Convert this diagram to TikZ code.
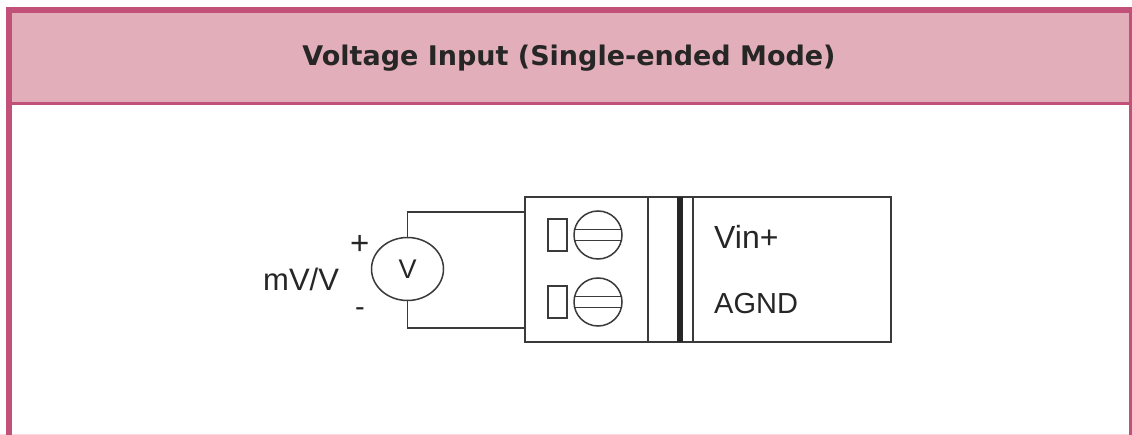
\documentclass[tikz,border=0pt]{standalone}
\usepackage{fontspec}
\setmainfont{Liberation Sans}
\newfontfamily\titlefont{DejaVu Sans}
\usepackage{xcolor}
\usepackage{tikz}
\usetikzlibrary{shapes.geometric}
\definecolor{framepink}{HTML}{C2517A}
\definecolor{headerpink}{HTML}{E2AEB9}
\definecolor{wiregray}{HTML}{3A3A3A}
\tikzset{
	wire/.style={draw=wiregray, line width=1.3pt},
	part/.style={wire, fill=white, inner sep=0pt, outer sep=0pt},
	screwhead/.style={part, circle, line width=1.5pt, minimum size=48pt},
	slot/.style={part, rectangle, line width=1.1pt, minimum width=19pt, minimum height=32pt},
	lbl/.style={text=black!85, inner sep=0pt, anchor=base west, font=\fontsize{29}{29}\selectfont}
}
\begin{document}
\begin{tikzpicture}[x=1pt, y=-1pt]
				\useasboundingbox (0, 0) rectangle (1132, 435);
				
				%Frame
				\fill[white] (0, 0) rectangle (1132, 435);
				\fill[pink!60] (0, 434) rectangle (1132, 435);
				\fill[framepink] (6, 7) rectangle (12, 435);
				\fill[framepink] (1129, 7) rectangle (1132, 435);
				\fill[framepink] (6, 7) rectangle (1132, 13);
				\fill[framepink] (6, 102) rectangle (1132, 105);
				\node[fill=headerpink, minimum width=1117pt, minimum height=89pt, inner sep=0pt] (header) at (570.5, 57.5) {};
				\node[inner sep=0pt, font=\titlefont\fontsize{27}{27}\selectfont\bfseries, text=black!85] (title) at (569, 58.5) {Voltage Input (Single-ended Mode)};
				
				%Terminal block
				\node[part, rectangle, line width=1.1pt, minimum width=366pt, minimum height=145pt] (block) at (708, 269.5) {};
				\coordinate (divider top) at (648, 197);
				\coordinate (divider bottom) at (648, 342);
				\coordinate (bar top) at (680, 197);
				\coordinate (bar bottom) at (680, 342);
				\coordinate (edge top) at (693, 197);
				\coordinate (edge bottom) at (693, 342);
				\draw[wire] (divider top) -- (divider bottom);
				\draw[wire] (edge top) -- (edge bottom);
				\draw[draw=black!85, line width=6pt] (bar top) -- (bar bottom);
				
				%Screws
				\node[slot] (slot a) at (557.5, 235) {};
				\node[slot] (slot b) at (557.5, 302) {};
				\node[screwhead] (screw a) at (598, 235) {};
				\node[screwhead] (screw b) at (598, 302) {};
				\draw[wire] (screw a.167) -- (screw a.13);
				\draw[wire] (screw a.193) -- (screw a.347);
				\draw[wire] (screw b.167) -- (screw b.13);
				\draw[wire] (screw b.193) -- (screw b.347);
				
				%Meter
				\node[part, ellipse, line width=1.5pt, minimum width=72pt, minimum height=63pt, font=\fontsize{27}{27}\selectfont, text=black!85] (meter) at (407.5, 269) {V};
				\coordinate (wire top) at (525, 212);
				\coordinate (wire bottom) at (525, 328);
				\draw[wire] (meter.north) |- (wire top);
				\draw[wire] (meter.south) |- (wire bottom);
				
				%Labels
				\node[lbl, font=\fontsize{33}{33}\selectfont] (plus) at (350, 254.5) {+};
				\node[lbl] (minus) at (355, 317) {-};
				\node[lbl, font=\fontsize{31}{31}\selectfont] (source) at (263, 291) {mV/V};
				\node[lbl, font=\fontsize{32}{32}\selectfont] (vin) at (714, 249) {Vin+};
				\node[lbl] (agnd) at (714, 314) {AGND};
			\end{tikzpicture}
\end{document}
